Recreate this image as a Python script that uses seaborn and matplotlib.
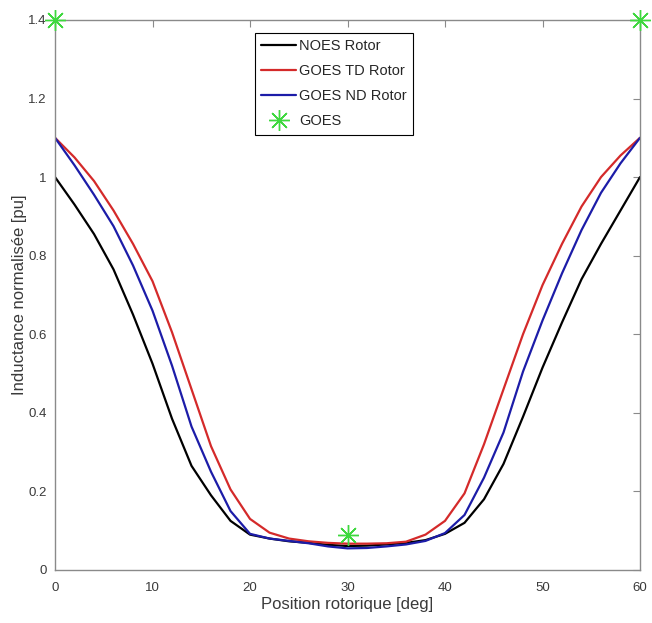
import numpy as np
import pandas as pd
import matplotlib
matplotlib.use("Agg")
import matplotlib.pyplot as plt
import seaborn as sns
from matplotlib.ticker import FormatStrFormatter

# rotor position [deg]
position = [0, 2, 4, 6, 8, 10, 12, 14, 16, 18, 20, 22, 24, 26, 28, 30,
            32, 34, 36, 38, 40, 42, 44, 46, 48, 50, 52, 54, 56, 58, 60]

# normalised inductance [pu]
noes_rotor = [1.00, 0.93, 0.855, 0.765, 0.65, 0.525, 0.385, 0.265, 0.19, 0.125, 0.09,
              0.08, 0.073, 0.069, 0.064, 0.061, 0.062, 0.065, 0.069, 0.076, 0.092,
              0.12, 0.18, 0.27, 0.39, 0.515, 0.63, 0.74, 0.83, 0.915, 1.00]
goes_td_rotor = [1.10, 1.05, 0.99, 0.915, 0.83, 0.735, 0.605, 0.46, 0.315, 0.205, 0.13,
                 0.095, 0.08, 0.073, 0.069, 0.067, 0.067, 0.068, 0.072, 0.09, 0.125,
                 0.195, 0.32, 0.46, 0.60, 0.725, 0.83, 0.925, 1.00, 1.055, 1.10]
goes_nd_rotor = [1.10, 1.03, 0.955, 0.875, 0.775, 0.66, 0.52, 0.365, 0.25, 0.15, 0.092,
                 0.08, 0.074, 0.068, 0.060, 0.055, 0.056, 0.060, 0.065, 0.074, 0.094,
                 0.14, 0.235, 0.35, 0.505, 0.635, 0.755, 0.865, 0.96, 1.035, 1.10]

goes_position = [0, 30, 60]
goes_value = [1.4, 0.09, 1.4]

sns.set_style("white")
plt.rcParams['font.family'] = ['Liberation Sans', 'DejaVu Sans']

fig = plt.figure(figsize=(6.52, 6.23), dpi=100)
ax = fig.add_axes([0.0844, 0.0851, 0.8972, 0.8829])

sns.lineplot(x=position, y=noes_rotor, color="black", linewidth=1.6, label="NOES Rotor", ax=ax)
sns.lineplot(x=position, y=goes_td_rotor, color="#d42a2a", linewidth=1.6, label="GOES TD Rotor", ax=ax)
sns.lineplot(x=position, y=goes_nd_rotor, color="#1c1ca8", linewidth=1.6, label="GOES ND Rotor", ax=ax)
ax.plot(goes_position, goes_value, linestyle="none", marker=(8, 2, 0), markersize=15,
        markeredgewidth=1.0, color="#3ed83e", label="GOES", clip_on=False, zorder=5)

ax.set_xlim(0, 60)
ax.set_ylim(0, 1.4)
ax.set_xticks([0, 10, 20, 30, 40, 50, 60])
ax.set_yticks([0, 0.2, 0.4, 0.6, 0.8, 1.0, 1.2, 1.4])
ax.yaxis.set_major_formatter(FormatStrFormatter('%g'))

for side in ["top", "bottom", "left", "right"]:
    ax.spines[side].set_visible(True)
    ax.spines[side].set_color("#8a8a8a")
    ax.spines[side].set_linewidth(1.0)
ax.tick_params(direction="in", length=5, width=0.8, color="#8a8a8a",
               labelsize=9.5, labelcolor="#3a3a3a", top=True, right=True)
ax.tick_params(axis="x", pad=9)
ax.tick_params(axis="y", pad=6)

ax.set_xlabel("Position rotorique [deg]", fontsize=12, color="#3a3a3a", labelpad=2)
ax.set_ylabel("Inductance normalisée [pu]", fontsize=12, color="#3a3a3a", labelpad=1)

leg = ax.legend(loc="upper center", bbox_to_anchor=(0.477, 0.977), fontsize=10.5,
                frameon=True, fancybox=False, edgecolor="black", framealpha=1,
                handlelength=2.4, borderpad=0.45, labelspacing=0.75, handletextpad=0.2,
                borderaxespad=0)
leg.get_frame().set_linewidth(0.8)

fig.savefig("out.png", dpi=100)
